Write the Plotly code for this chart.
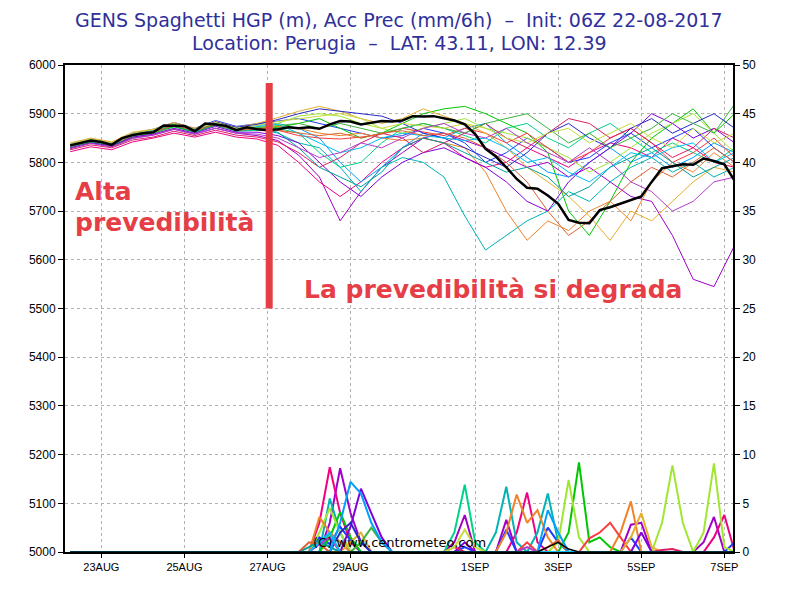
import plotly.graph_objects as go
import pandas as pd

# time axes: members every 12h, control and precip every 6h (22AUG 06Z -> 7SEP 06Z)
t12 = pd.date_range("2017-08-22 06:00", "2017-09-07 06:00", freq="12h")
t6 = pd.date_range("2017-08-22 06:00", "2017-09-07 06:00", freq="6h")

tick_dates = ["2017-08-23", "2017-08-25", "2017-08-27", "2017-08-29",
              "2017-09-01", "2017-09-03", "2017-09-05", "2017-09-07"]
tick_labels = ["23AUG", "25AUG", "27AUG", "29AUG", "1SEP", "3SEP", "5SEP", "7SEP"]

member_colors = [
    "#a000c8", "#f00082", "#1e3cff", "#00a0ff", "#00b4b4",
    "#00d28c", "#00c800", "#a0e632", "#f08228", "#fa3c3c",
    "#e6af2d", "#8200dc", "#dc1e64", "#2828c8", "#00bef0",
    "#00a0a0", "#3cb43c", "#dc6432", "#c8dc3c", "#b43cc8",
]

# HGP (m) per ensemble member, 12-hourly
hgp_members = [
    [5828, 5840, 5832, 5850, 5856, 5868, 5858, 5870, 5860, 5855, 5845, 5815, 5770, 5680, 5740, 5790, 5820,
     5850, 5860, 5845, 5830, 5810, 5790, 5800, 5770, 5790, 5760, 5730, 5720, 5650, 5560, 5545, 5630],
    [5822, 5832, 5826, 5842, 5850, 5860, 5852, 5862, 5852, 5848, 5835, 5800, 5760, 5730, 5760, 5800, 5830,
     5850, 5840, 5810, 5790, 5800, 5830, 5810, 5790, 5820, 5840, 5830, 5810, 5850, 5830, 5800, 5790],
    [5838, 5848, 5840, 5860, 5868, 5882, 5870, 5886, 5874, 5880, 5885, 5890, 5880, 5870, 5860, 5850, 5855,
     5870, 5860, 5840, 5800, 5820, 5850, 5830, 5800, 5810, 5840, 5860, 5830, 5850, 5870, 5830, 5800],
    [5836, 5846, 5838, 5858, 5864, 5880, 5868, 5882, 5870, 5876, 5880, 5870, 5850, 5800, 5760, 5790, 5830,
     5860, 5850, 5870, 5880, 5840, 5810, 5780, 5770, 5800, 5830, 5800, 5820, 5790, 5810, 5840, 5820],
    [5834, 5844, 5836, 5856, 5862, 5876, 5864, 5878, 5866, 5870, 5860, 5840, 5830, 5790, 5740, 5790, 5810,
     5800, 5770, 5690, 5620, 5650, 5680, 5700, 5740, 5720, 5760, 5790, 5810, 5780, 5800, 5770, 5790],
    [5832, 5842, 5834, 5854, 5862, 5874, 5862, 5876, 5864, 5866, 5870, 5860, 5820, 5790, 5800, 5840, 5870,
     5880, 5870, 5855, 5840, 5870, 5880, 5850, 5830, 5860, 5880, 5850, 5820, 5840, 5820, 5800, 5830],
    [5830, 5841, 5833, 5852, 5860, 5873, 5862, 5877, 5866, 5868, 5872, 5880, 5890, 5870, 5850, 5860, 5880,
     5900, 5910, 5915, 5900, 5880, 5860, 5820, 5700, 5650, 5720, 5800, 5850, 5880, 5910, 5860, 5900],
    [5836, 5846, 5840, 5858, 5866, 5878, 5866, 5880, 5870, 5872, 5880, 5895, 5900, 5895, 5880, 5870, 5860,
     5870, 5880, 5890, 5870, 5860, 5850, 5830, 5810, 5780, 5800, 5830, 5860, 5880, 5900, 5860, 5820],
    [5834, 5845, 5837, 5856, 5864, 5877, 5866, 5880, 5868, 5870, 5874, 5870, 5860, 5855, 5860, 5850, 5845,
     5850, 5840, 5830, 5780, 5700, 5640, 5680, 5660, 5700, 5720, 5680, 5760, 5800, 5780, 5820, 5790],
    [5835, 5844, 5838, 5856, 5863, 5876, 5865, 5879, 5867, 5870, 5866, 5855, 5850, 5848, 5852, 5858, 5870,
     5862, 5855, 5870, 5860, 5840, 5860, 5830, 5800, 5820, 5850, 5870, 5840, 5800, 5820, 5850, 5810],
    [5840, 5850, 5842, 5862, 5868, 5882, 5870, 5884, 5872, 5880, 5892, 5905, 5915, 5905, 5890, 5880, 5890,
     5910, 5895, 5880, 5860, 5830, 5790, 5760, 5730, 5690, 5640, 5700, 5680, 5720, 5760, 5790, 5780],
    [5830, 5840, 5834, 5852, 5858, 5870, 5860, 5874, 5862, 5862, 5855, 5840, 5800, 5760, 5730, 5770, 5800,
     5820, 5830, 5810, 5790, 5760, 5720, 5700, 5760, 5800, 5830, 5860, 5900, 5880, 5850, 5870, 5840],
    [5826, 5836, 5830, 5846, 5852, 5864, 5855, 5866, 5856, 5852, 5842, 5820, 5790, 5810, 5840, 5860, 5850,
     5820, 5840, 5860, 5880, 5850, 5830, 5860, 5890, 5880, 5850, 5870, 5840, 5810, 5830, 5870, 5850],
    [5836, 5847, 5839, 5859, 5866, 5880, 5868, 5883, 5872, 5878, 5888, 5900, 5910, 5905, 5900, 5895, 5880,
     5860, 5850, 5830, 5810, 5790, 5820, 5860, 5880, 5850, 5830, 5870, 5890, 5860, 5880, 5900, 5870],
    [5837, 5847, 5839, 5858, 5865, 5879, 5867, 5881, 5869, 5874, 5878, 5860, 5840, 5820, 5830, 5850, 5860,
     5855, 5850, 5845, 5850, 5830, 5800, 5810, 5780, 5760, 5790, 5820, 5810, 5830, 5840, 5800, 5820],
    [5833, 5843, 5836, 5855, 5862, 5875, 5863, 5878, 5866, 5868, 5862, 5830, 5790, 5770, 5750, 5780, 5830,
     5850, 5840, 5820, 5800, 5780, 5790, 5770, 5730, 5750, 5790, 5810, 5830, 5800, 5770, 5790, 5810],
    [5835, 5845, 5837, 5857, 5863, 5877, 5865, 5879, 5867, 5871, 5876, 5880, 5870, 5880, 5870, 5860, 5870,
     5880, 5870, 5860, 5880, 5890, 5900, 5870, 5840, 5860, 5830, 5850, 5870, 5900, 5880, 5860, 5920],
    [5834, 5844, 5837, 5855, 5862, 5876, 5865, 5878, 5866, 5869, 5866, 5860, 5855, 5860, 5850, 5860, 5865,
     5855, 5860, 5850, 5830, 5800, 5760, 5700, 5650, 5680, 5720, 5760, 5790, 5770, 5800, 5830, 5800],
    [5838, 5848, 5840, 5860, 5867, 5880, 5868, 5882, 5870, 5876, 5884, 5890, 5895, 5900, 5890, 5870, 5880,
     5875, 5870, 5880, 5870, 5850, 5840, 5860, 5870, 5840, 5860, 5880, 5850, 5830, 5870, 5840, 5860],
    [5829, 5839, 5832, 5849, 5856, 5868, 5858, 5870, 5860, 5858, 5850, 5830, 5810, 5820, 5840, 5830, 5850,
     5870, 5880, 5860, 5850, 5870, 5840, 5820, 5800, 5830, 5800, 5760, 5740, 5700, 5720, 5760, 5770],
]

# control run (thick black), 6-hourly
hgp_control = [
    5835, 5840, 5845, 5842, 5836, 5850, 5856, 5860, 5862, 5876, 5876, 5875, 5864,
    5880, 5878, 5875, 5866, 5872, 5868, 5866, 5868, 5872, 5870, 5872, 5869, 5878,
    5885, 5884, 5878, 5882, 5885, 5884, 5886, 5895, 5894, 5895, 5890, 5886, 5878,
    5858, 5828, 5812, 5790, 5766, 5748, 5746, 5732, 5715, 5682, 5676, 5675, 5702,
    5708, 5715, 5722, 5730, 5760, 5788, 5792, 5796, 5795, 5808, 5803, 5796, 5762,
]

# precipitation (mm/6h): non-zero 6-hourly steps per member, zero elsewhere
prec_members = [
    {25: 3, 26: 8.6, 27: 4, 28: 1, 37: 1, 38: 3.8, 42: 3.3, 54: 2.8, 55: 3.0, 61: 1, 62: 3.6},
    {24: 3, 25: 8.7, 26: 4, 27: 1, 43: 2, 44: 6.1, 45: 1, 62: 1.5, 63: 3.8},
    {24: 1.5, 25: 0.8, 26: 2.6, 27: 1.2, 38: 0.5, 42: 2.3, 46: 2.5, 47: 1, 54: 1.5, 64: 1},
    {26: 3, 27: 7.2, 28: 6, 29: 3, 30: 1, 46: 4.3, 47: 2},
    {25: 5.5, 26: 2, 41: 2, 42: 6.7, 43: 1, 45: 2, 46: 6.0, 47: 1},
    {25: 2, 26: 1, 37: 2, 38: 6.9, 39: 1},
    {25: 1.5, 26: 4.1, 27: 1.5, 48: 2, 49: 9.2, 50: 1, 51: 1.5, 52: 0.5},
    {24: 2, 25: 4.5, 26: 2, 47: 1, 48: 7.4, 49: 1.5, 57: 3, 58: 8.9, 59: 3, 61: 2, 62: 9.1, 63: 0.5},
    {24: 3.6, 25: 2, 26: 1, 42: 2, 43: 5.9, 44: 3, 45: 4.3, 46: 1.5, 53: 2, 54: 5.2},
    {44: 1, 50: 1.4, 51: 2, 52: 3.0, 53: 1.5},
    {27: 1, 28: 2, 54: 1.5, 55: 4.0, 56: 0.5},
    {27: 2.6, 28: 6.5, 29: 4, 30: 1.5, 38: 1, 55: 2},
    {37: 0.5, 57: 0.2, 58: 0.3},
    {26: 2, 27: 3, 28: 1},
    {24: 1, 25: 2},
    {23: 0.5, 24: 1.2, 25: 0.5},
    {28: 1, 29: 2.5, 30: 1},
    {23: 1, 24: 0.8, 46: 0.5, 47: 1.2},
    {37: 0.5, 38: 2.3, 39: 0.5},
    {24: 0.8, 25: 1.5, 44: 0.5},
]
prec_control = {46: 0.5, 47: 1.0, 48: 0.3}

RED = "#e63e46"

fig = go.Figure()

for vals, col in zip(hgp_members, member_colors):
    fig.add_trace(go.Scatter(x=t12, y=vals, mode="lines",
                             line=dict(color=col, width=1), showlegend=False))

fig.add_trace(go.Scatter(x=t6, y=hgp_control, mode="lines",
                         line=dict(color="black", width=2.5), showlegend=False))

# precip on the right axis; sky-blue members last so the zero line looks blue
order = list(range(len(prec_members)))
order.remove(14)
order.remove(3)
order += [3, 14]
for m in order:
    p = prec_members[m]
    fig.add_trace(go.Scatter(x=t6, y=[p.get(i, 0.0) for i in range(len(t6))],
                             mode="lines", yaxis="y2",
                             line=dict(color=member_colors[m], width=2), showlegend=False))
fig.add_trace(go.Scatter(x=t6, y=[prec_control.get(i, 0.0) for i in range(len(t6))],
                         mode="lines", yaxis="y2",
                         line=dict(color="black", width=1.5), showlegend=False))

# red divider bar
fig.add_shape(type="line", x0="2017-08-27 01:00", x1="2017-08-27 01:00",
              y0=5500, y1=5963, xref="x", yref="y",
              line=dict(color=RED, width=7))

txt_font = dict(family="DejaVu Sans", size=25, color=RED)
fig.add_annotation(text="<b>Alta</b>", xref="paper", yref="paper", x=0.012, y=0.74,
                   xanchor="left", yanchor="middle", showarrow=False, font=txt_font)
fig.add_annotation(text="<b>prevedibilità</b>", xref="paper", yref="paper", x=0.012, y=0.676,
                   xanchor="left", yanchor="middle", showarrow=False, font=txt_font)
fig.add_annotation(text="<b>La prevedibilità si degrada</b>", xref="paper", yref="paper",
                   x=0.355, y=0.54, xanchor="left", yanchor="middle", showarrow=False,
                   font=txt_font)

fig.add_annotation(text="(C) www.centrometeo.com", xref="paper", yref="paper",
                   x=0.5, y=0.02, xanchor="center", yanchor="middle", showarrow=False,
                   font=dict(family="DejaVu Sans", size=13, color="black"))

title_font = dict(family="DejaVu Sans", size=19, color="#30309a")
fig.add_annotation(text="GENS Spaghetti HGP (m), Acc Prec (mm/6h)  \u2013  Init: 06Z 22-08-2017",
                   xref="paper", yref="paper", x=0.5, y=1.0, yshift=45,
                   xanchor="center", yanchor="middle", showarrow=False, font=title_font)
fig.add_annotation(text="Location: Perugia  \u2013  LAT: 43.11, LON: 12.39",
                   xref="paper", yref="paper", x=0.5, y=1.0, yshift=22,
                   xanchor="center", yanchor="middle", showarrow=False, font=title_font)

xtick_font = dict(family="Liberation Sans", size=11, color="black")
ytick_font = dict(family="Liberation Sans", size=12, color="black")
# page body adds an 8px offset, so margins are shifted to keep the plot box at 65..733 x 65..552
fig.update_layout(
    width=800, height=600,
    margin=dict(l=57, r=75, t=57, b=56),
    paper_bgcolor="white", plot_bgcolor="white",
    xaxis=dict(
        type="date", range=["2017-08-22 03:00", "2017-09-07 05:00"],
        tickmode="array", tickvals=tick_dates, ticktext=tick_labels,
        showgrid=True, gridcolor="#b0b0b0", griddash="dot", gridwidth=1,
        showline=True, linecolor="black", linewidth=2, mirror=True,
        ticks="outside", ticklen=4, tickcolor="black", tickfont=xtick_font,
        zeroline=False,
    ),
    yaxis=dict(
        range=[5000, 6000], dtick=100, tick0=5000,
        showgrid=True, gridcolor="#b0b0b0", griddash="dot", gridwidth=1,
        showline=True, linecolor="black", linewidth=2,
        ticks="outside", ticklen=5, tickcolor="black", tickfont=ytick_font,
        zeroline=False,
    ),
    yaxis2=dict(
        range=[0, 50], dtick=5, tick0=0, overlaying="y", side="right",
        showgrid=False, showline=True, linecolor="black", linewidth=2,
        ticks="outside", ticklen=5, tickcolor="black", tickfont=ytick_font,
        zeroline=False,
    ),
)

fig.write_html("out.html")
